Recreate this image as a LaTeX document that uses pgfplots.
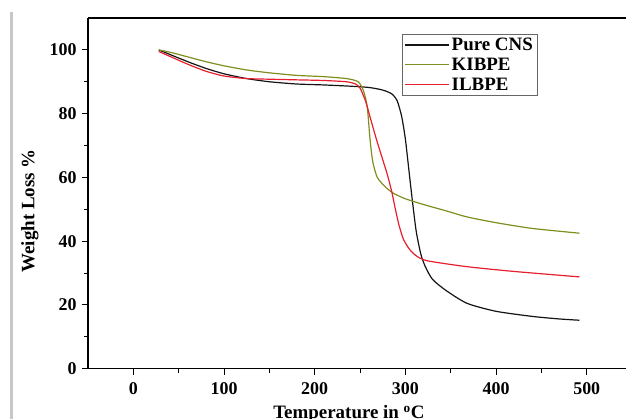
\documentclass[border=0pt]{standalone}
\usepackage{fontspec}
\setmainfont{Liberation Serif}
\usepackage{pgfplots}
\pgfplotsset{compat=1.18}

\definecolor{cnsblack}{RGB}{20,20,20}
\definecolor{kigreen}{RGB}{128,142,32}
\definecolor{ilred}{RGB}{230,30,45}

\begin{document}
\begin{tikzpicture}
  % page frame of the reference image
  \useasboundingbox (-88bp,-50.3bp) rectangle (538bp,368.7bp);
  \draw[black!22, line width=3bp] (-76.5bp,356.7bp) -- (-76.5bp,-50.3bp);

  \begin{axis}[
      scale only axis,
      width=538bp, height=350.7bp,
      xmin=-50, xmax=543.3,
      ymin=0, ymax=110,
      axis x line*=box,
      axis y line*=left,
      axis line style={line width=1.2bp, -},
      tick align=outside,
      xtick={0,100,200,300,400,500},
      minor xtick={50,150,250,350,450},
      ytick={0,20,40,60,80,100},
      minor ytick={10,30,50,70,90},
      major tick length=6bp,
      minor tick length=4bp,
      every tick/.style={line width=1bp, black},
      xtick pos=bottom, ytick pos=left,
      /pgf/number format/assume math mode=true,
      ticklabel style={font=\fontsize{18}{20}\selectfont\bfseries},
      xticklabel style={yshift=-4bp},
      yticklabel style={xshift=-2bp},
      xlabel={Temperature in \textsuperscript{o}C},
      ylabel={Weight Loss \%},
      label style={font=\fontsize{19}{21}\selectfont\bfseries},
      xlabel style={at={(axis description cs:0.485,-0.1434)}, anchor=base},
      ylabel style={at={(axis description cs:-0.108,0.45)}, anchor=center},
      legend cell align=left,
      legend style={
        at={(axis description cs:0.584,0.954)}, anchor=north west,
        draw=black!60, line width=0.6bp,
        font=\fontsize{19}{21}\selectfont\bfseries,
        inner xsep=2bp, inner ysep=1.5bp,
        row sep=2bp,
      },
      legend image code/.code={\draw[#1] (0bp,0bp) -- (44bp,0bp);},
    ]

    % Pure CNS
    \addplot[cnsblack, line width=1.2bp, smooth, tension=0.4] coordinates {
      (28,100) (40,98.6) (60,96.3) (80,94.2) (100,92.5) (125,91) (150,90)
      (180,89.3) (210,89) (240,88.6) (260,88.2) (275,87.4) (285,86.2)
      (291,84) (296,79) (300,72) (304,62) (308,52) (312,43) (317,36)
      (322,32) (330,28) (345,24.5) (368,20.5) (400,18) (440,16.4)
      (470,15.6) (492,15.2)
    };
    \addlegendentry{Pure CNS}

    % KIBPE
    \addplot[kigreen, line width=1.2bp, smooth, tension=0.4] coordinates {
      (28,100) (40,99.3) (60,97.8) (80,96.3) (100,95) (125,93.7) (150,92.8)
      (180,92) (210,91.6) (235,91) (248,90) (254,87) (258,82) (261,72)
      (264,65) (269,60) (278,57) (287,55) (300,53.3) (320,51.5) (345,49.5)
      (368,47.6) (400,45.8) (440,44) (492,42.5)
    };
    \addlegendentry{KIBPE}

    % ILBPE
    \addplot[ilred, line width=1.2bp, smooth, tension=0.4] coordinates {
      (28,99.5) (40,98) (60,95.5) (80,93.3) (100,91.8) (125,91) (150,90.8)
      (180,90.6) (210,90.4) (235,90) (245,89.3) (250,88) (256,84) (262,78)
      (268,72) (274,66.5) (280,61) (285,55.5) (289,50) (293,45) (298,40.5)
      (305,37.3) (313,35.2) (325,33.8) (368,32) (420,30.5) (492,28.8)
    };
    \addlegendentry{ILBPE}
  \end{axis}
\end{tikzpicture}
\end{document}
